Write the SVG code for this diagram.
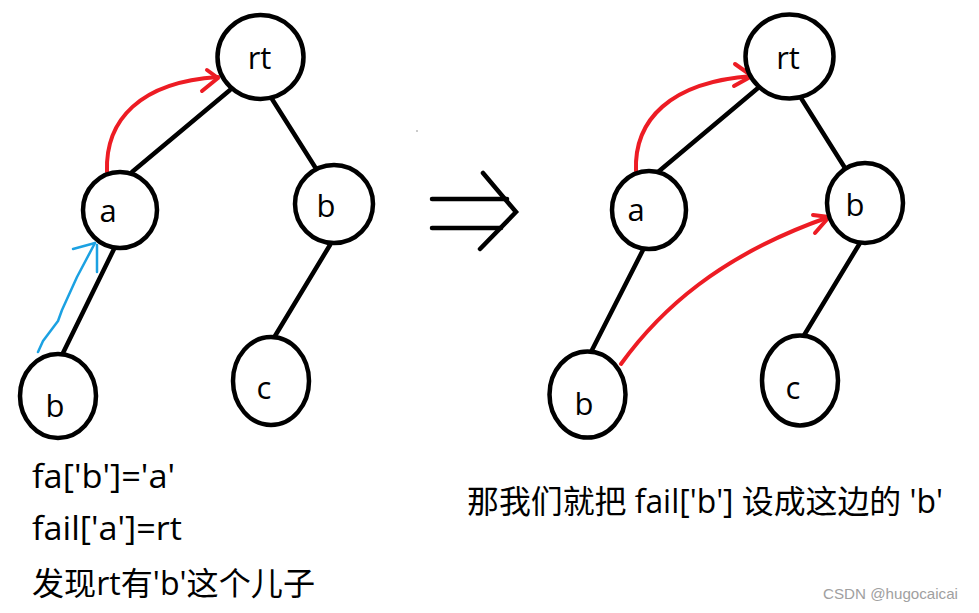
<svg xmlns="http://www.w3.org/2000/svg" width="979" height="613" viewBox="0 0 979 613">
<style>
.node ellipse{fill:#fff;stroke:#000;stroke-width:4.5}
.lbl{font-family:"Open Sans","Noto Sans CJK SC",sans-serif;font-size:31px;fill:#000;text-anchor:middle}
.edge{stroke:#000;stroke-width:4.5;fill:none;stroke-linecap:round}
.red{stroke:#ed1c24;stroke-width:4;fill:none;stroke-linecap:round;stroke-linejoin:round}
.blue{stroke:#1ba1e2;stroke-width:2.5;fill:none;stroke-linecap:round;stroke-linejoin:round}
.txt{font-family:"Open Sans","Noto Sans CJK SC",sans-serif;font-size:32px;fill:#000}
</style>
<rect width="979" height="613" fill="#fff"/>
<g id="connectors">
  <line class="edge" x1="230" y1="90" x2="132" y2="172"/>
  <line class="edge" x1="272" y1="99" x2="315" y2="167"/>
  <line class="edge" x1="114" y1="249" x2="63" y2="353"/>
  <line class="edge" x1="330" y1="245" x2="275" y2="336"/>
  <line class="edge" x1="758" y1="88" x2="658" y2="172"/>
  <line class="edge" x1="801" y1="98" x2="845" y2="168"/>
  <line class="edge" x1="644" y1="248" x2="591" y2="352"/>
  <line class="edge" x1="860" y1="243" x2="803" y2="337"/>
  <g class="edge">
    <line x1="432" y1="199" x2="507" y2="199"/>
    <line x1="432" y1="228" x2="501" y2="228"/>
    <polyline points="483,173 516,212 480,249"/>
  </g>
  <path class="red" d="M107,172 C105,120 140,82 218,77"/>
  <polyline class="red" points="207,70 218,78 202,91"/>
  <path class="blue" d="M38,352 L43,341 L58,321 L62,310 L77,277 L95,243"/>
  <polyline class="blue" points="73,249 95,243"/>
  <line class="blue" x1="97" y1="245" x2="97" y2="272"/>
  <path class="red" d="M636,171 C634,120 670,82 752,76"/>
  <polyline class="red" points="735,64 752,76 734,86"/>
  <path class="red" d="M621,364 C660,310 720,255 829,217"/>
  <polyline class="red" points="813,215 829,217 815,233"/>
</g>
<g id="L-rt" class="node"><ellipse cx="260.5" cy="57" rx="43" ry="42"/><text class="lbl" x="259.5" y="69">rt</text></g>
<g id="L-a" class="node"><ellipse cx="120" cy="210" rx="37" ry="38"/><text class="lbl" x="108" y="222">a</text></g>
<g id="L-b1" class="node"><ellipse cx="334" cy="204" rx="39" ry="39"/><text class="lbl" x="326" y="217">b</text></g>
<g id="L-b2" class="node"><ellipse cx="58" cy="396" rx="38" ry="42"/><text class="lbl" x="55" y="417">b</text></g>
<g id="L-c" class="node"><ellipse cx="271" cy="381" rx="38" ry="44"/><text class="lbl" x="264" y="399">c</text></g>
<g id="R-rt" class="node"><ellipse cx="789.5" cy="56.5" rx="44" ry="42"/><text class="lbl" x="788" y="69">rt</text></g>
<g id="R-a" class="node"><ellipse cx="649" cy="210" rx="37" ry="39"/><text class="lbl" x="636" y="221">a</text></g>
<g id="R-b1" class="node"><ellipse cx="865" cy="203" rx="38" ry="40"/><text class="lbl" x="855" y="216">b</text></g>
<g id="R-b2" class="node"><ellipse cx="587.5" cy="394.5" rx="38" ry="43"/><text class="lbl" x="584" y="415">b</text></g>
<g id="R-c" class="node"><ellipse cx="800" cy="380.5" rx="38" ry="45"/><text class="lbl" x="793" y="399">c</text></g>
<circle cx="417" cy="131" r="0.8" fill="#888"/>
<g id="notes">
  <text class="txt" x="32" y="488" textLength="143" lengthAdjust="spacingAndGlyphs">fa['b']='a'</text>
  <text class="txt" x="32" y="540" textLength="150" lengthAdjust="spacingAndGlyphs">fail['a']=rt</text>
  <text class="txt" x="32" y="595" textLength="283" lengthAdjust="spacingAndGlyphs">发现rt有'b'这个儿子</text>
  <text class="txt" x="467" y="513" textLength="476" lengthAdjust="spacingAndGlyphs">那我们就把 fail['b'] 设成这边的 'b'</text>
  <text x="823" y="599" textLength="135" lengthAdjust="spacingAndGlyphs" style="font-family:'Liberation Sans',sans-serif;font-size:15px;fill:#a0a0a0">CSDN @hugocaicai</text>
</g>
</svg>
